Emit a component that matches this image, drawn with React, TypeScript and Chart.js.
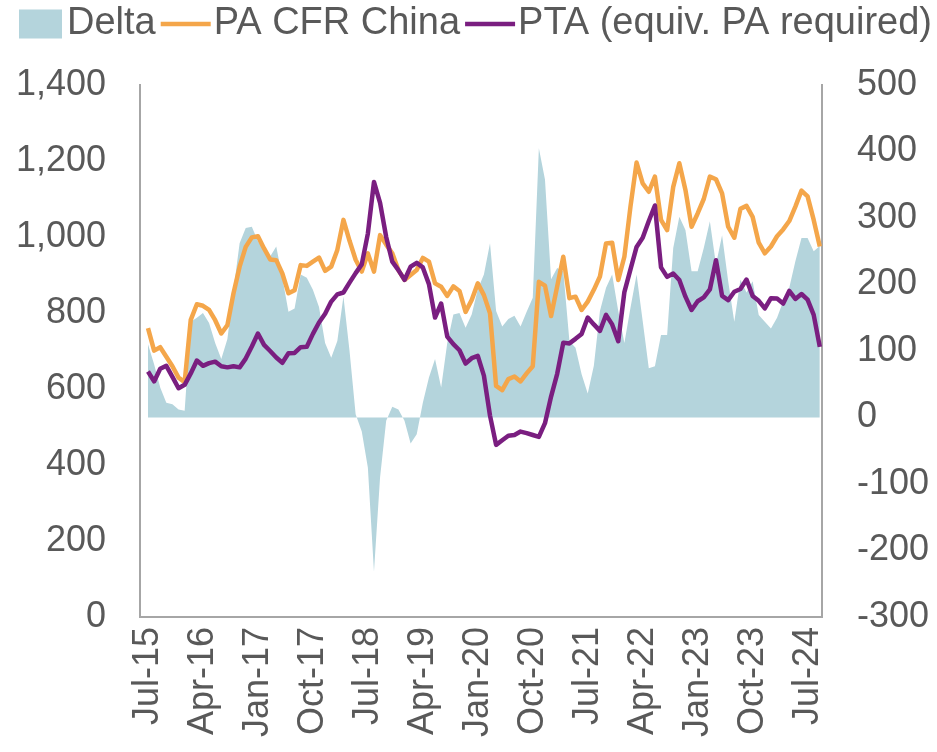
import React, { useEffect, useRef } from 'react';
import { Chart, registerables } from 'chart.js';

Chart.register(...registerables);

// Monthly categories, Jul-15 .. Sep-24
const categories = [
  'Jul-15', 'Aug-15', 'Sep-15', 'Oct-15', 'Nov-15', 'Dec-15',
  'Jan-16', 'Feb-16', 'Mar-16', 'Apr-16', 'May-16', 'Jun-16', 'Jul-16', 'Aug-16', 'Sep-16', 'Oct-16', 'Nov-16', 'Dec-16',
  'Jan-17', 'Feb-17', 'Mar-17', 'Apr-17', 'May-17', 'Jun-17', 'Jul-17', 'Aug-17', 'Sep-17', 'Oct-17', 'Nov-17', 'Dec-17',
  'Jan-18', 'Feb-18', 'Mar-18', 'Apr-18', 'May-18', 'Jun-18', 'Jul-18', 'Aug-18', 'Sep-18', 'Oct-18', 'Nov-18', 'Dec-18',
  'Jan-19', 'Feb-19', 'Mar-19', 'Apr-19', 'May-19', 'Jun-19', 'Jul-19', 'Aug-19', 'Sep-19', 'Oct-19', 'Nov-19', 'Dec-19',
  'Jan-20', 'Feb-20', 'Mar-20', 'Apr-20', 'May-20', 'Jun-20', 'Jul-20', 'Aug-20', 'Sep-20', 'Oct-20', 'Nov-20', 'Dec-20',
  'Jan-21', 'Feb-21', 'Mar-21', 'Apr-21', 'May-21', 'Jun-21', 'Jul-21', 'Aug-21', 'Sep-21', 'Oct-21', 'Nov-21', 'Dec-21',
  'Jan-22', 'Feb-22', 'Mar-22', 'Apr-22', 'May-22', 'Jun-22', 'Jul-22', 'Aug-22', 'Sep-22', 'Oct-22', 'Nov-22', 'Dec-22',
  'Jan-23', 'Feb-23', 'Mar-23', 'Apr-23', 'May-23', 'Jun-23', 'Jul-23', 'Aug-23', 'Sep-23', 'Oct-23', 'Nov-23', 'Dec-23',
  'Jan-24', 'Feb-24', 'Mar-24', 'Apr-24', 'May-24', 'Jun-24', 'Jul-24', 'Aug-24', 'Sep-24',
];

// Category indices that carry a tick label (Jul-15, Apr-16, ... Jul-24)
const xTickIndices = [0, 9, 18, 27, 36, 45, 54, 63, 72, 81, 90, 99, 108];

// PA CFR China (left axis)
const paCfrChina = [
  760, 701, 710, 685, 660, 630, 618, 782, 823, 819,
  808, 781, 746, 768, 852, 922, 974, 999, 1002, 970,
  941, 939, 904, 852, 860, 926, 924, 935, 946, 911,
  922, 966, 1045, 990, 940, 909, 957, 909, 1005, 980,
  957, 913, 887, 900, 913, 945, 935, 878, 869, 845,
  870, 858, 803, 834, 878, 847, 799, 608, 597, 626,
  633, 620, 641, 660, 882, 872, 792, 870, 948, 839,
  843, 808, 830, 861, 896, 983, 985, 887, 948, 1080,
  1196, 1141, 1119, 1159, 1045, 1018, 1132, 1194, 1124, 1027,
  1062, 1100, 1159, 1152, 1115, 1027, 998, 1074, 1082, 1053,
  985, 957, 975, 1002, 1020, 1042, 1080, 1122, 1107, 1045,
  975,
];

// PTA (equiv. PA required) (left axis)
const ptaEquivPa = [
  646, 620, 653, 661, 632, 602, 611, 641, 675, 661,
  668, 672, 660, 657, 660, 657, 680, 712, 746, 716,
  700, 683, 669, 694, 695, 710, 711, 745, 775, 798,
  830, 849, 854, 880, 905, 928, 1009, 1145, 1090, 1000,
  935, 913, 887, 922, 932, 920, 876, 788, 825, 738,
  718, 702, 667, 681, 687, 635, 530, 453, 465, 477,
  479, 488, 484, 479, 474, 510, 580, 640, 722, 720,
  732, 745, 788, 770, 753, 795, 770, 726, 855, 915,
  974, 998, 1042, 1083, 920, 895, 904, 887, 843, 808,
  831, 841, 862, 939, 845, 834, 856, 863, 888, 845,
  832, 812, 839, 838, 825, 858, 837, 850, 835, 795,
  711,
];

// Delta (right axis)
const delta = [
  110, 80, 45, 22, 20, 12, 10, 144, 150, 157,
  142, 112, 88, 118, 192, 262, 285, 287, 265, 252,
  242, 257, 210, 159, 164, 215, 210, 192, 166, 112,
  90, 115, 182, 100, 5, -21, -75, -232, -90, -5,
  16, 12, -5, -39, -25, 22, 60, 88, 45, 112,
  155, 157, 135, 155, 193, 215, 262, 160, 137, 148,
  153, 137, 159, 180, 405, 358, 208, 225, 220, 115,
  105, 65, 36, 78, 160, 195, 215, 160, 112, 165,
  215, 145, 74, 77, 124, 124, 255, 302, 282, 220,
  220, 255, 295, 230, 274, 205, 144, 207, 188, 205,
  154, 144, 134, 150, 175, 195, 235, 270, 270, 250,
  258,
];

const leftTicks = { min: 0, max: 1400, step: 200 };
const rightTicks = { min: -300, max: 500, step: 100 };

const FONT = "'Liberation Sans', Arial, Helvetica, sans-serif";
const TEXT = '#595959';
const AXIS = '#a6a6a6';
const C_DELTA = '#b4d4dc';
const C_PA = '#f4a64a';
const C_PTA = '#7a1e80';

const legendPlugin = {
  id: 'customTopLegend',
  afterDraw(chart: any) {
    const ctx = chart.ctx as CanvasRenderingContext2D;
    ctx.save();
    ctx.font = `38px ${FONT}`;
    ctx.textBaseline = 'middle';
    ctx.textAlign = 'left';
    const cy = 24;
    let x = 19;
    const items = [...chart.data.datasets]
      .map((ds: any, i: number) => ({ ds, i }))
      .sort((a: any, b: any) => a.i - b.i);
    items.forEach(({ ds }: any) => {
      if (ds.fill) {
        ctx.fillStyle = ds.backgroundColor;
        ctx.fillRect(x, cy - 14.5, 43, 29);
        x += 43 + 5;
      } else {
        ctx.strokeStyle = ds.borderColor;
        ctx.lineWidth = 4.5;
        ctx.lineCap = 'butt';
        ctx.beginPath();
        ctx.moveTo(x, cy);
        ctx.lineTo(x + 50, cy);
        ctx.stroke();
        x += 50 + 3;
      }
      ctx.fillStyle = TEXT;
      ctx.fillText(ds.label, x, cy);
      x += ctx.measureText(ds.label).width + 5;
    });
    ctx.restore();
  },
};

export default function App() {
  const canvasRef = useRef<HTMLCanvasElement | null>(null);

  useEffect(() => {
    if (!canvasRef.current) return;
    const toPts = (arr: number[]) => arr.map((v, i) => ({ x: i, y: v }));
    const tickFont = { family: FONT, size: 36 };
    const chart = new Chart(canvasRef.current, {
      type: 'line',
      data: {
        datasets: [
          {
            label: 'Delta',
            data: toPts(delta),
            yAxisID: 'y1',
            fill: 'origin',
            backgroundColor: C_DELTA,
            borderColor: 'rgba(0,0,0,0)',
            borderWidth: 0,
            pointRadius: 0,
            tension: 0,
            order: 3,
          },
          {
            label: 'PA CFR China',
            data: toPts(paCfrChina),
            yAxisID: 'y',
            fill: false,
            borderColor: C_PA,
            backgroundColor: C_PA,
            borderWidth: 4.5,
            borderJoinStyle: 'round',
            pointRadius: 0,
            tension: 0,
            order: 2,
          },
          {
            label: 'PTA (equiv. PA required)',
            data: toPts(ptaEquivPa),
            yAxisID: 'y',
            fill: false,
            borderColor: C_PTA,
            backgroundColor: C_PTA,
            borderWidth: 4.5,
            borderJoinStyle: 'round',
            pointRadius: 0,
            tension: 0,
            order: 1,
          },
        ],
      },
      options: {
        responsive: false,
        animation: false,
        devicePixelRatio: 1,
        layout: { padding: { top: 85, left: 0, right: 0, bottom: 0 } },
        plugins: {
          legend: { display: false },
          tooltip: { enabled: false },
        },
        scales: {
          x: {
            type: 'linear',
            min: -1.31,
            max: 110.36,
            grid: { display: false, drawTicks: false },
            border: { display: true, color: AXIS, width: 2 },
            afterBuildTicks: (s: any) => {
              s.ticks = xTickIndices.map((v) => ({ value: v }));
            },
            afterFit: (s: any) => {
              s.height = 135;
            },
            ticks: {
              autoSkip: false,
              minRotation: 90,
              maxRotation: 90,
              padding: 10,
              color: TEXT,
              font: tickFont,
              callback: (v: any) => categories[v as number] ?? '',
            },
          },
          y: {
            type: 'linear',
            position: 'left',
            min: leftTicks.min,
            max: leftTicks.max,
            grid: { display: false, drawTicks: false },
            border: { display: true, color: AXIS, width: 2 },
            afterFit: (s: any) => {
              s.width = 140;
            },
            ticks: {
              stepSize: leftTicks.step,
              padding: 34,
              color: TEXT,
              font: tickFont,
              callback: (v: any) => Number(v).toLocaleString('en-US'),
            },
          },
          y1: {
            type: 'linear',
            position: 'right',
            min: rightTicks.min,
            max: rightTicks.max,
            grid: { display: false, drawTicks: false },
            border: { display: true, color: AXIS, width: 2 },
            afterFit: (s: any) => {
              s.width = 115;
            },
            ticks: {
              stepSize: rightTicks.step,
              padding: 35,
              color: TEXT,
              font: tickFont,
              callback: (v: any) => String(v),
            },
          },
        },
      },
      plugins: [legendPlugin],
    } as any);
    return () => chart.destroy();
  }, []);

  return (
    <div style={{ position: 'fixed', left: 0, top: 0, width: 937, height: 752, background: '#fff' }}>
      <canvas ref={canvasRef} width={937} height={752} style={{ display: 'block' }} />
    </div>
  );
}
